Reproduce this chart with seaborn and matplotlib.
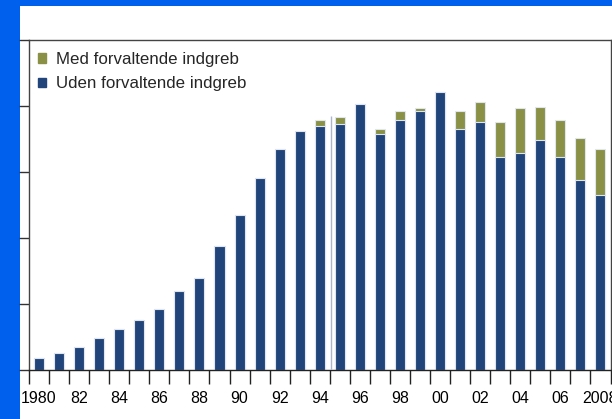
import pandas as pd
import matplotlib.pyplot as plt
import matplotlib.patches as mpatches
import seaborn as sns

# values (axis has no labels: 0-100 scale, tick every 20)
years = list(range(1980, 2009))
uden = [3.7, 5.2, 7.0, 9.7, 12.4, 15.2, 18.4, 23.8, 28.0, 37.6,
        47.0, 58.3, 67.0, 72.3, 73.8, 74.4, 80.6, 71.5, 75.8, 78.5,
        84.3, 73.0, 75.2, 64.5, 65.8, 69.8, 64.5, 57.5, 52.9]
med = [0, 0, 0, 0, 0, 0, 0, 0, 0, 0,
       0, 0, 0, 0, 2.0, 2.2, 0, 1.4, 2.7, 0.8,
       0, 5.4, 6.0, 10.7, 13.5, 9.9, 11.3, 12.8, 14.2]
tick_labels = ['1980', '82', '84', '86', '88', '90', '92', '94', '96', '98',
               '00', '02', '04', '06', '2008']
break_year = 1995  # series break, drawn as a thin line before that bar

label_med = 'Med forvaltende indgreb'
label_uden = 'Uden forvaltende indgreb'

blue = '#21457a'
green = '#8a9146'
edge = '#dfe6f0'

df = pd.DataFrame({'year': [str(y) for y in years], 'uden': uden, 'med': med})
df['total'] = df['uden'] + df['med']

sns.set_style('white')
plt.rcParams['font.family'] = ['Liberation Sans', 'DejaVu Sans']

W, H = 612, 419
fig = plt.figure(figsize=(W / 100, H / 100), dpi=100)
fig.patch.set_facecolor('#0060ee')
# white slide panel
fig.add_artist(mpatches.Rectangle((20 / W, 0), 1, 1 - 6 / H, transform=fig.transFigure,
                                  facecolor='white', edgecolor='none', zorder=0))

left, right, bottom, top = 29 / W, 610.5 / W, (H - 370) / H, (H - 40) / H
ax = fig.add_axes([left, bottom, right - left, top - bottom])

sns.barplot(data=df, x='year', y='total', color=green, width=0.5, saturation=1,
            edgecolor=edge, linewidth=0.8, ax=ax)
sns.barplot(data=df, x='year', y='uden', color=blue, width=0.5, saturation=1,
            edgecolor=edge, linewidth=0.8, ax=ax)

bi = years.index(break_year)
ax.vlines(bi - 0.42, 0, df['total'][bi] + 0.4, color='#aab6cc', lw=1.0, zorder=3)

ax.set_xlim(-0.5, len(years) - 0.5)
ax.set_ylim(0, 100)
ax.set_xlabel('')
ax.set_ylabel('')

ax.set_yticks(range(0, 101, 20))
ax.set_yticklabels([])
ax.tick_params(axis='y', which='major', left=True, length=7, width=1, color='#333333', direction='out')

ax.set_xticks([i for i in range(0, len(years), 2)])
ax.set_xticklabels(tick_labels, fontsize=11.5)
ax.set_xticks([i - 0.5 for i in range(len(years) + 1)], minor=True)
ax.tick_params(axis='x', which='major', length=0, pad=15, colors='black')
ax.tick_params(axis='x', which='minor', bottom=True, length=10, width=1, color='#222222', direction='out')

for s in ax.spines.values():
    s.set_visible(True)
    s.set_color('#444444')
    s.set_linewidth(1.0)
ax.spines['bottom'].set_color('#222222')

handles = [mpatches.Patch(color=green, label=label_med),
           mpatches.Patch(color=blue, label=label_uden)]
ax.legend(handles=handles, loc='upper left', bbox_to_anchor=(9 / 581.5, 1 - 12 / 330),
          frameon=False, fontsize=12.2, handlelength=0.45, handleheight=0.45,
          handletextpad=0.6, labelspacing=0.55, borderpad=0, borderaxespad=0)

fig.savefig('out.png', dpi=100, facecolor=fig.get_facecolor())
